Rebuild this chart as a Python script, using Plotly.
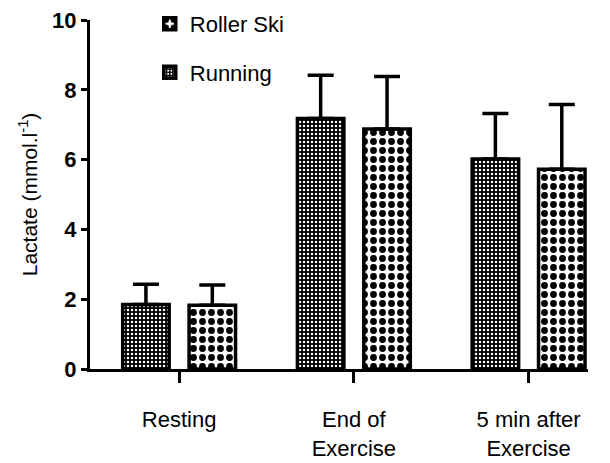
import plotly.graph_objects as go

categories = ["Resting", "End of<br>Exercise", "5 min after<br>Exercise"]
running_mean = [1.85, 7.18, 6.02]
running_sd = [0.58, 1.24, 1.30]
roller_mean = [1.83, 6.88, 5.72]
roller_sd = [0.58, 1.50, 1.86]
y_ticks = [0, 2, 4, 6, 8, 10]

FONT = "Liberation Sans, Arial, sans-serif"

fig = go.Figure()
fig.add_trace(go.Bar(
    name="Running", x=categories, y=running_mean,
    legendgroup="a", legendrank=2,
    marker=dict(color="white",
                line=dict(color="black", width=3.5),
                pattern=dict(shape=".", fgcolor="white", bgcolor="black",
                             size=4, solidity=0.3, fillmode="replace")),
    error_y=dict(type="data", symmetric=False, array=running_sd,
                 arrayminus=[0, 0, 0], color="black", thickness=3.5, width=13),
))
fig.add_trace(go.Bar(
    name="Roller Ski", x=categories, y=roller_mean,
    legendgroup="b", legendrank=1,
    marker=dict(color="white",
                line=dict(color="black", width=3.5),
                pattern=dict(shape=".", fgcolor="black", bgcolor="white",
                             size=9, solidity=0.45, fillmode="replace")),
    error_y=dict(type="data", symmetric=False, array=roller_sd,
                 arrayminus=[0, 0, 0], color="black", thickness=3.5, width=13),
))

fig.update_layout(
    width=602, height=455,
    margin=dict(l=82, r=22, t=12, b=94, autoexpand=False),
    paper_bgcolor="white", plot_bgcolor="white",
    barmode="group", bargap=0.24, bargroupgap=0.30,
    font=dict(family=FONT, color="black"),
    showlegend=True,
    legend=dict(x=0.12, y=1.049, xanchor="left", yanchor="top",
                traceorder="grouped", tracegroupgap=17,
                font=dict(size=22, family=FONT), bgcolor="rgba(0,0,0,0)"),
)
fig.update_xaxes(
    range=[-0.51, 2.34], showline=True, linecolor="black", linewidth=3,
    ticks="outside", ticklen=11, tickwidth=2.5, tickcolor="black",
    tickfont=dict(size=22, family=FONT), ticklabelstandoff=18,
    showgrid=False, zeroline=False, automargin=False,
)
fig.update_yaxes(
    range=[0, 10], tickvals=y_ticks, ticktext=[str(v) for v in y_ticks],
    showline=True, linecolor="black", linewidth=3,
    ticks="outside", ticklen=6, tickwidth=2.5, tickcolor="black",
    tickfont=dict(size=22, family=FONT, weight="bold"),
    ticklabeloverflow="allow",
    title=dict(text="Lactate (mmol.l<sup>-1</sup>)", font=dict(size=21, family=FONT), standoff=9),
    showgrid=False, zeroline=False, automargin=False,
)

fig.write_html("out.html")
